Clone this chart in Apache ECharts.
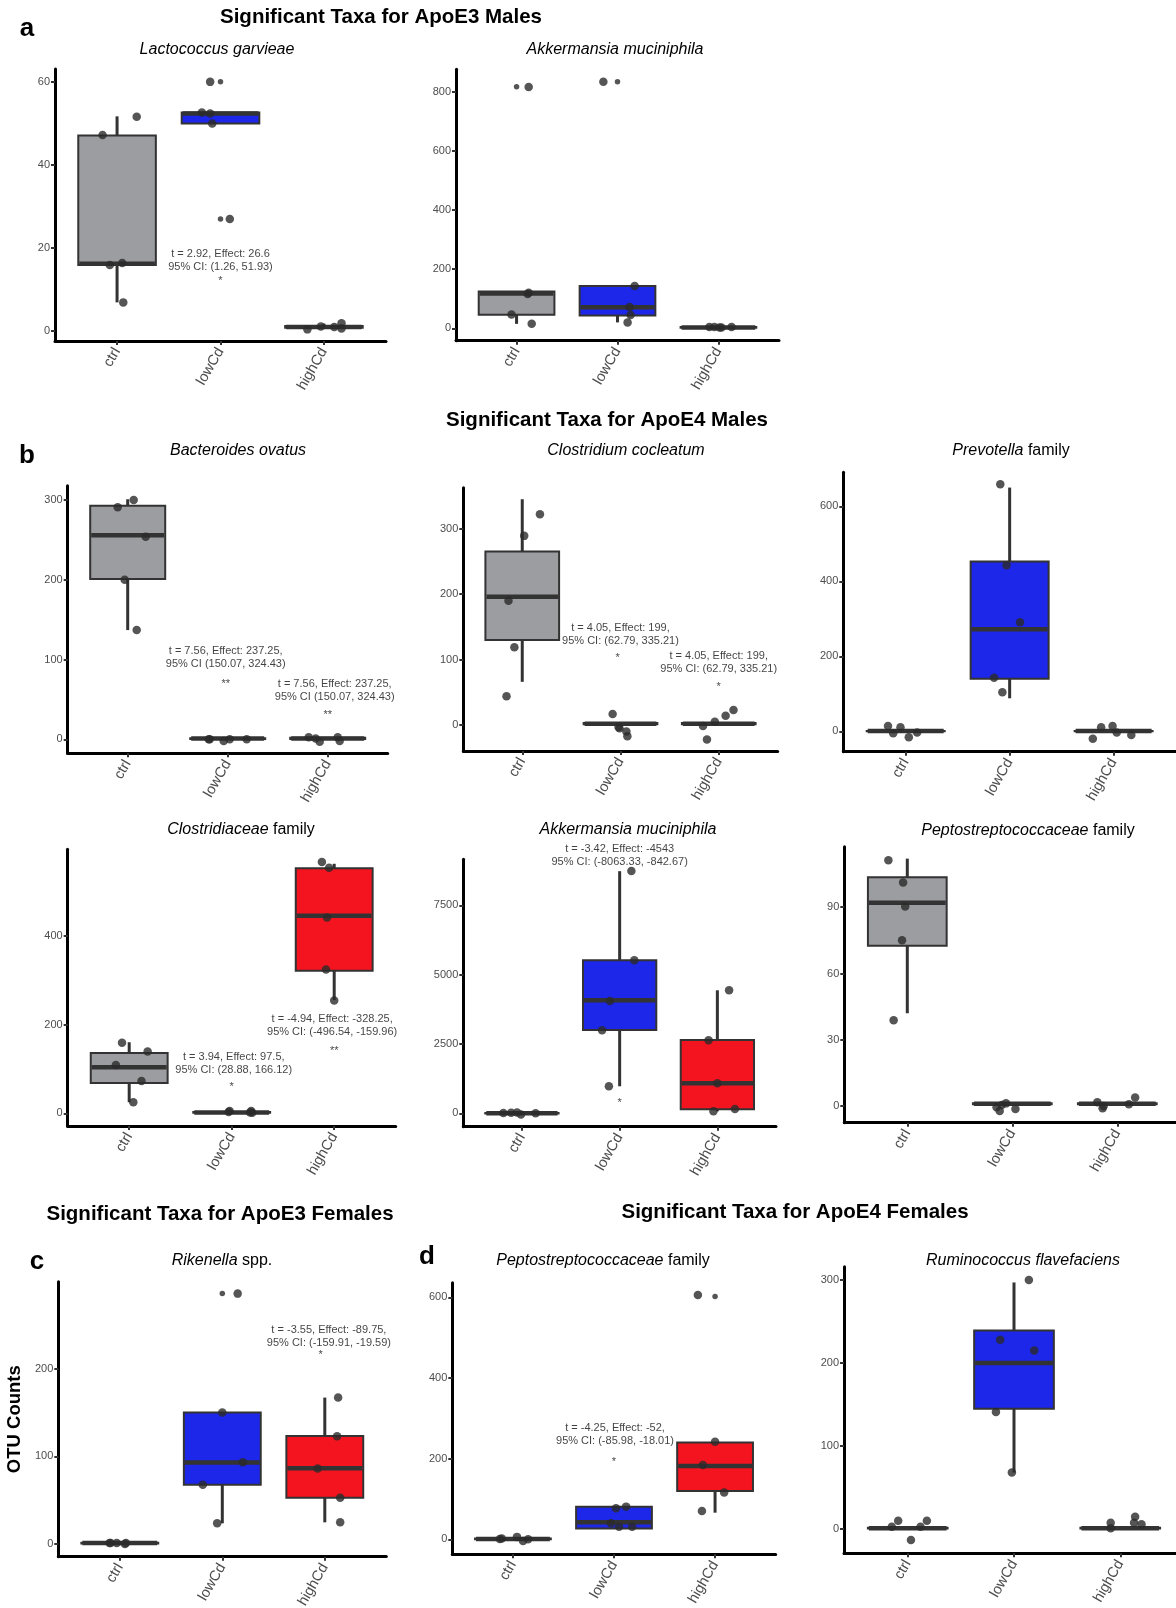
<!DOCTYPE html>
<html>
<head>
    <meta charset="utf-8">
    <title>Significant Taxa</title>
    <script src="https://cdn.jsdelivr.net/npm/echarts@6/dist/echarts.min.js"></script>
    <style>
        html, body { margin: 0; padding: 0; background: #fff; }
        #main { width: 1176px; height: 1608px; }
    </style>
</head>
<body>
<div id="main"></div>
<script type="text/javascript">
    const groups = ['ctrl', 'lowCd', 'highCd'];
    const groupColors = ['#9c9da1', '#1d27e9', '#f4141f'];

    // box stats per group: [lower whisker, Q1, median, Q3, upper whisker]
    // a - ApoE3 males, Lactococcus garvieae
    const lactoTicks = [0, 20, 40, 60];
    const lactoBox = [[6.9, 15.9, 16.2, 47.1, 51.7], [50, 50, 52.4, 52.6, 52.6], [0.6, 0.8, 1, 1.2, 1.8]];
    const lactoPts = [[47.2, 51.6, 15.9, 16.4, 6.9], [60, 52.6, 52.4, 50, 27], [0.4, 1.1, 1.9, 0.6, 1.0]];
    const lactoJit = [[-0.14, 0.19, -0.07, 0.05, 0.06], [-0.1, -0.18, -0.1, -0.08, 0.09], [-0.16, -0.03, 0.17, 0.17, 0.1]];
    const lactoOut = [[], [60, 27], []];
    const lactoNotes = [[1, 17, 't = 2.92, Effect: 26.6\n95% CI: (1.26, 51.93)'], [1, 12, '*']];

    // a - ApoE3 males, Akkermansia muciniphila
    const akkE3Ticks = [0, 200, 400, 600, 800];
    const akkE3Box = [[15, 46, 118, 125, 125], [20, 43, 71, 143, 143], [1, 2, 3, 4, 5]];
    const akkE3Pts = [[817, 120, 116, 47, 15], [835, 143, 72, 45, 20], [4, 4, 3, 3, 4]];
    const akkE3Jit = [[0.12, 0.12, 0.11, -0.05, 0.15], [-0.14, 0.17, 0.12, 0.13, 0.1], [-0.09, -0.04, 0.01, 0.03, 0.13]];
    const akkE3Out = [[818], [835], []];
    const akkE3Notes = [];

    // b - ApoE4 males
    const bacTicks = [0, 100, 200, 300];
    const bacBox = [[137, 201, 256, 293, 301], [0, 0.5, 1, 1.5, 2], [-0.5, 0.5, 1, 2, 2.5]];
    const bacPts = [[291, 300, 254, 200, 137], [0, 0, -2, 0, 0], [2.5, 1, -3, 2.5, -2]];
    const bacJit = [[-0.1, 0.06, 0.18, -0.03, 0.09], [-0.19, -0.18, -0.04, 0.02, 0.19], [-0.19, -0.12, -0.08, 0.1, 0.12]];
    const bacOut = [[], [], []];
    const bacNotes = [[0.98, 102.5, 't = 7.56, Effect: 237.25,\n95% CI (150.07, 324.43)'], [0.98, 70, '**'],
        [2.07, 60.8, 't = 7.56, Effect: 237.25,\n95% CI (150.07, 324.43)'], [2, 30.5, '**']];

    const cocTicks = [0, 100, 200, 300];
    const cocBox = [[66, 130, 196, 265, 345], [0.5, 1, 2, 3, 3.5], [0.5, 1, 2, 3, 3.5]];
    const cocPts = [[322, 289, 190, 119, 44], [17, -5, -10, -17, -3], [-1.5, -22, 5, 14, 23]];
    const cocJit = [[0.18, 0.02, -0.14, -0.08, -0.16], [-0.08, -0.01, 0.06, 0.07, -0.02], [-0.16, -0.12, -0.04, 0.07, 0.15]];
    const cocOut = [[], [], []];
    const cocNotes = [[1, 138, 't = 4.05, Effect: 199,\n95% CI: (62.79, 335.21)'], [0.97, 102, '*'],
        [2, 95, 't = 4.05, Effect: 199,\n95% CI: (62.79, 335.21)'], [2, 58.5, '*']];

    const prevTicks = [0, 200, 400, 600];
    const prevBox = [[-0.5, 0, 0.5, 1, 1.5], [88, 140, 272, 453, 650], [-0.5, 0, 0.5, 1, 1.5]];
    const prevPts = [[14, -5, 11, -16, -3], [659, 443, 291, 143, 104], [-20, 11, 14, -3, -10]];
    const prevJit = [[-0.17, -0.12, -0.05, 0.03, 0.11], [-0.09, -0.03, 0.1, -0.15, -0.07], [-0.2, -0.12, -0.01, 0.03, 0.17]];
    const prevOut = [[], [], []];
    const prevNotes = [];

    const closTicks = [0, 200, 400];
    const closBox = [[25, 68, 104, 136, 160], [0.5, 1, 2, 3, 4], [255, 321, 445, 552, 562]];
    const closPts = [[159, 139, 109, 73, 25], [5, 3, 5, 1, 2], [566, 553, 441, 324, 254]];
    const closJit = [[-0.07, 0.18, -0.13, 0.12, 0.04], [-0.02, -0.03, 0.19, 0.2, 0.18], [-0.12, -0.05, -0.07, -0.08, 0]];
    const closOut = [[], [], []];
    const closNotes = [[1.02, 113, 't = 3.94, Effect: 97.5,\n95% CI: (28.88, 166.12)'], [1, 58.6, '*'],
        [1.98, 198, 't = -4.94, Effect: -328.25,\n95% CI: (-496.54, -159.96)'], [2, 141, '**']];

    const akkE4Ticks = [0, 2500, 5000, 7500];
    const akkE4Box = [[-30, -10, 0, 10, 30], [975, 3000, 4080, 5520, 8730], [72, 150, 1080, 2640, 4435]];
    const akkE4Pts = [[10, 20, 30, -40, 0], [8737, 5517, 4050, 2993, 974], [4435, 2632, 1082, 155, 72]];
    const akkE4Jit = [[-0.19, -0.11, -0.05, -0.01, 0.14], [0.12, 0.15, -0.1, -0.18, -0.11], [0.12, -0.09, 0, 0.18, -0.04]];
    const akkE4Out = [[], [], []];
    const akkE4Notes = [[1, 9314, 't = -3.42, Effect: -4543\n95% CI: (-8063.33, -842.67)'], [1, 360, '*']];

    const pepMTicks = [0, 30, 60, 90];
    const pepMBox = [[42, 72.6, 92, 103.6, 112], [0.5, 0.8, 1, 1.2, 1.5], [0.5, 0.8, 1, 1.2, 1.5]];
    const pepMPts = [[111.3, 101.2, 90.3, 75, 38.8], [-0.6, -2.3, 1.2, -1.4, 0.5], [1.7, -1, 0, 0.8, 3.9]];
    const pepMJit = [[-0.18, -0.04, -0.02, -0.05, -0.13], [-0.15, -0.12, -0.06, 0.03, -0.1], [-0.19, -0.14, -0.13, 0.11, 0.17]];
    const pepMOut = [[], [], []];
    const pepMNotes = [];

    // c - ApoE3 females
    const rikTicks = [0, 100, 200];
    const rikBox = [[0, 0.5, 1, 1.5, 2], [23.6, 67.5, 93, 150, 150], [24.7, 52.8, 86.3, 123.2, 167]];
    const rikPts = [[1, 1, 1, 0, 1], [285.6, 150, 93.2, 67.6, 23.6], [167, 123, 86, 52.8, 24.7]];
    const rikJit = [[-0.1, -0.03, 0.06, 0.05, -0.09], [0.15, 0, 0.2, -0.19, -0.05], [0.13, 0.12, -0.07, 0.15, 0.15]];
    const rikOut = [[], [285.6], []];
    const rikNotes = [[2.04, 236.2, 't = -3.55, Effect: -89.75,\n95% CI: (-159.91, -19.59)'], [1.96, 215.6, '*']];

    // d - ApoE4 females
    const pepFTicks = [0, 200, 400, 600];
    const pepFBox = [[-1, 0, 1, 2, 3], [27, 27, 42, 81, 81], [66, 120, 182, 240, 240]];
    const pepFPts = [[1, 6, -4, 0, 2], [77, 81, 40, 31, 31], [606, 242, 184, 116, 70]];
    const pepFJit = [[-0.13, 0.04, 0.1, 0.15, -0.11], [0.02, 0.12, -0.03, 0.05, 0.18], [-0.17, 0, -0.12, 0.09, -0.13]];
    const pepFOut = [[], [], [602]];
    const pepFNotes = [[1.01, 260.6, 't = -4.25, Effect: -52,\n95% CI: (-85.98, -18.01)'], [1, 192.4, '*']];

    const rumTicks = [0, 100, 200, 300];
    const rumBox = [[0, 0.5, 1, 1.5, 2], [68, 145, 200, 239, 297], [0, 0.5, 1, 1.5, 2]];
    const rumPts = [[2.8, 10, -13.3, 2.8, 10], [300, 228, 215, 141, 68], [0.8, 7.6, 7.6, 14.8, 5.7]];
    const rumJit = [[-0.15, -0.09, 0.03, 0.12, 0.18], [0.14, -0.13, 0.19, -0.17, -0.02], [-0.09, -0.09, 0.13, 0.14, 0.2]];
    const rumOut = [[], [], []];
    const rumNotes = [];

    // panel layout (pixel boxes of each plot area and y ranges)
    const panels = [
        {box: lactoBox, pts: lactoPts, jit: lactoJit, out: lactoOut, ticks: lactoTicks, notes: lactoNotes, left: 55, top: 69, width: 331, height: 272, yMin: -2.4, yMax: 63.1},
        {box: akkE3Box, pts: akkE3Pts, jit: akkE3Jit, out: akkE3Out, ticks: akkE3Ticks, notes: akkE3Notes, left: 456, top: 69.3, width: 323, height: 271.4, yMin: -42, yMax: 877},
        {box: bacBox, pts: bacPts, jit: bacJit, out: bacOut, ticks: bacTicks, notes: bacNotes, left: 67.7, top: 485.7, width: 320, height: 267.6, yMin: -17.5, yMax: 318},
        {box: cocBox, pts: cocPts, jit: cocJit, out: cocOut, ticks: cocTicks, notes: cocNotes, left: 463.3, top: 487.7, width: 314.4, height: 263.3, yMin: -39.7, yMax: 362.6},
        {box: prevBox, pts: prevPts, jit: prevJit, out: prevOut, ticks: prevTicks, notes: prevNotes, left: 843.3, top: 472.3, width: 332.7, height: 279.4, yMin: -54.4, yMax: 690.7},
        {box: closBox, pts: closPts, jit: closJit, out: closOut, ticks: closTicks, notes: closNotes, left: 67.7, top: 849.3, width: 328, height: 276.7, yMin: -28.6, yMax: 594.6},
        {box: akkE4Box, pts: akkE4Pts, jit: akkE4Jit, out: akkE4Out, ticks: akkE4Ticks, notes: akkE4Notes, left: 463.3, top: 859.3, width: 312.7, height: 267.4, yMin: -483, yMax: 9158},
        {box: pepMBox, pts: pepMPts, jit: pepMJit, out: pepMOut, ticks: pepMTicks, notes: pepMNotes, left: 844.3, top: 846.7, width: 336, height: 276, yMin: -7.55, yMax: 117.4},
        {box: rikBox, pts: rikPts, jit: rikJit, out: rikOut, ticks: rikTicks, notes: rikNotes, left: 58.3, top: 1281.7, width: 328, height: 275, yMin: -14.5, yMax: 299.2, yName: 'OTU Counts'},
        {box: pepFBox, pts: pepFPts, jit: pepFJit, out: pepFOut, ticks: pepFTicks, notes: pepFNotes, left: 452.3, top: 1282.7, width: 323.4, height: 271.6, yMin: -37.2, yMax: 636.2},
        {box: rumBox, pts: rumPts, jit: rumJit, out: rumOut, ticks: rumTicks, notes: rumNotes, left: 844, top: 1266.7, width: 340, height: 286.6, yMin: -29.3, yMax: 316}
    ];

    const font = "'Liberation Sans', Arial, Helvetica, sans-serif";

    // headings: [x, y, text, size, weight]
    const headings = [
        [381, 17, 'Significant Taxa for ApoE3 Males', 20.5, 'bold'],
        [607, 420, 'Significant Taxa for ApoE4 Males', 20.5, 'bold'],
        [220, 1214, 'Significant Taxa for ApoE3 Females', 20.5, 'bold'],
        [795, 1212, 'Significant Taxa for ApoE4 Females', 20.5, 'bold'],
        [27, 29, 'a', 26, 'bold'],
        [27, 456, 'b', 26, 'bold'],
        [37, 1262, 'c', 26, 'bold'],
        [427, 1257, 'd', 26, 'bold'],
        [217, 50, '{i|Lactococcus garvieae}', 16, 'normal'],
        [615, 50, '{i|Akkermansia muciniphila}', 16, 'normal'],
        [238, 451, '{i|Bacteroides ovatus}', 16, 'normal'],
        [626, 451, '{i|Clostridium cocleatum}', 16, 'normal'],
        [1011, 451, '{i|Prevotella} family', 16, 'normal'],
        [241, 830, '{i|Clostridiaceae} family', 16, 'normal'],
        [628, 830, '{i|Akkermansia muciniphila}', 16, 'normal'],
        [1028, 831, '{i|Peptostreptococcaceae} family', 16, 'normal'],
        [222, 1261, '{i|Rikenella} spp.', 16, 'normal'],
        [603, 1261, '{i|Peptostreptococcaceae} family', 16, 'normal'],
        [1023, 1261, '{i|Ruminococcus flavefaciens}', 16, 'normal']
    ];

    function renderBox(params, api) {
        const x = api.value(0);
        const lo = api.coord([x, api.value(1)]);
        const q1 = api.coord([x, api.value(2)]);
        const md = api.coord([x, api.value(3)]);
        const q3 = api.coord([x, api.value(4)]);
        const hi = api.coord([x, api.value(5)]);
        const w = api.size([0.75, 0])[0];
        const cx = lo[0];
        return {
            type: 'group',
            children: [
                {type: 'line', shape: {x1: cx, y1: lo[1], x2: cx, y2: q1[1]}, style: {stroke: '#333', lineWidth: 3}},
                {type: 'line', shape: {x1: cx, y1: q3[1], x2: cx, y2: hi[1]}, style: {stroke: '#333', lineWidth: 3}},
                {type: 'rect', shape: {x: cx - w / 2, y: q3[1], width: w, height: q1[1] - q3[1]},
                    style: {fill: groupColors[params.dataIndex], stroke: '#333', lineWidth: 2}},
                {type: 'line', shape: {x1: cx - w / 2 + 1, y1: md[1], x2: cx + w / 2 - 1, y2: md[1]},
                    style: {stroke: '#333', lineWidth: 4.5}}
            ]
        };
    }

    const grid = [], xAxis = [], yAxis = [], series = [];

    panels.forEach((p, i) => {
        grid.push({left: p.left, top: p.top, width: p.width, height: p.height, containLabel: false, outerBoundsMode: 'none'});

        xAxis.push({
            gridIndex: i, type: 'value', min: -0.6, max: 2.6,
            splitLine: {show: false},
            axisLine: {show: true, onZero: false, lineStyle: {color: '#000', width: 3}},
            axisTick: {show: true, customValues: [0, 1, 2], length: 4, lineStyle: {color: '#333', width: 2}},
            axisLabel: {
                customValues: [0, 1, 2], formatter: v => groups[Math.round(v)],
                rotate: 60, fontSize: 14.5, color: '#4d4d4d', margin: 8, fontFamily: font
            }
        });

        yAxis.push({
            gridIndex: i, type: 'value', min: p.yMin, max: p.yMax,
            name: p.yName || '', nameLocation: 'middle', nameRotate: 90, nameGap: 34,
            nameTextStyle: {fontSize: 18.5, fontWeight: 'bold', color: '#000', fontFamily: font},
            splitLine: {show: false},
            axisLine: {show: true, onZero: false, lineStyle: {color: '#000', width: 3}},
            axisTick: {show: true, customValues: p.ticks, length: 4, lineStyle: {color: '#333', width: 2}},
            axisLabel: {customValues: p.ticks, formatter: v => String(v), fontSize: 11, color: '#4d4d4d', margin: 5, fontFamily: font}
        });

        series.push({
            type: 'custom', xAxisIndex: i, yAxisIndex: i, renderItem: renderBox,
            encode: {x: 0, y: [1, 2, 3, 4, 5]}, clip: false, silent: true, z: 2,
            data: p.box.map((b, g) => [g].concat(b))
        });

        const outData = [];
        p.out.forEach((vals, g) => vals.forEach(v => outData.push([g, v])));
        series.push({
            type: 'scatter', xAxisIndex: i, yAxisIndex: i, data: outData, symbolSize: 5.5,
            itemStyle: {color: '#2b2b2b'}, silent: true, z: 3
        });

        const ptData = [];
        p.pts.forEach((vals, g) => vals.forEach((v, k) => ptData.push([g + p.jit[g][k], v])));
        series.push({
            type: 'scatter', xAxisIndex: i, yAxisIndex: i, data: ptData, symbolSize: 8.5,
            itemStyle: {color: '#2b2b2b', opacity: 0.8}, silent: true, z: 4
        });

        if (p.notes.length) {
            series.push({
                type: 'scatter', xAxisIndex: i, yAxisIndex: i, symbolSize: 1, clip: false, silent: true, z: 5,
                itemStyle: {color: 'rgba(0,0,0,0)'},
                label: {show: true, position: 'inside', fontSize: 11, lineHeight: 13, color: '#111', fontFamily: font},
                data: p.notes.map(n => ({value: [n[0], n[1]], label: {formatter: n[2]}}))
            });
        }
    });

    const graphic = headings.map(h => ({
        type: 'text', x: h[0], y: h[1], silent: true,
        style: {
            text: h[2], fontSize: h[3], fontWeight: h[4], fontFamily: font, fill: '#000',
            align: 'center', verticalAlign: 'middle',
            rich: {i: {fontStyle: 'italic', fontSize: h[3], fontFamily: font, fill: '#000'}}
        }
    }));

    const myChart = echarts.init(document.getElementById('main'));
    myChart.setOption({
        animation: false,
        backgroundColor: '#fff',
        grid: grid,
        xAxis: xAxis,
        yAxis: yAxis,
        series: series,
        graphic: graphic
    });
</script>
</body>
</html>
